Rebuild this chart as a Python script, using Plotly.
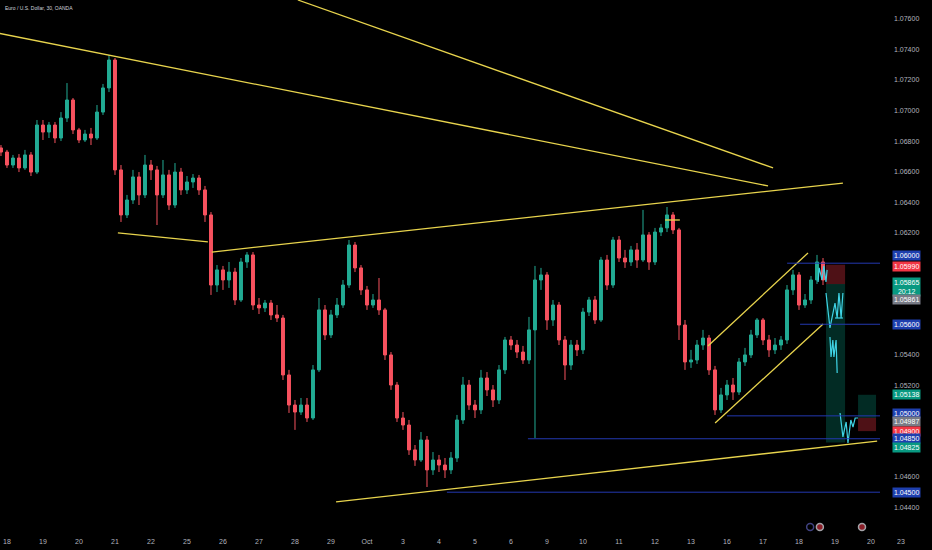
import plotly.graph_objects as go

# EUR/USD, 4-hour bars (6 per trading day), 18 Sep - 18 Oct
day_labels = ['18', '19', '20', '21', '22', '25', '26', '27', '28', '29', 'Oct', '3', '4', '5', '6',
              '9', '10', '11', '12', '13', '16', '17', '18', '19', '20']
first_open = 1.06755
closes = [1.06728, 1.06643, 1.06689, 1.06624, 1.06709, 1.06597, 1.06905, 1.06859, 1.06905, 1.06820, 1.06951, 1.07069,
          1.06873, 1.06807, 1.06846, 1.06820, 1.06990, 1.07148, 1.07331, 1.06611, 1.06316, 1.06414, 1.06565, 1.06447,
          1.06643, 1.06611, 1.06447, 1.06578, 1.06381, 1.06597, 1.06480, 1.06532, 1.06558, 1.06480, 1.06316, 1.05857,
          1.05956, 1.05890, 1.05942, 1.05759, 1.06008, 1.06054, 1.05726, 1.05707, 1.05739, 1.05661, 1.05641, 1.05268,
          1.05071, 1.05025, 1.05071, 1.04986, 1.05301, 1.05694, 1.05530, 1.05661, 1.05726, 1.05857, 1.06119, 1.05969,
          1.05825, 1.05726, 1.05759, 1.05694, 1.05399, 1.05202, 1.04986, 1.04940, 1.04777, 1.04711, 1.04842, 1.04646,
          1.04711, 1.04678, 1.04646, 1.04724, 1.04973, 1.05202, 1.05071, 1.05039, 1.05248, 1.05170, 1.05104, 1.05301,
          1.05497, 1.05464, 1.05418, 1.05366, 1.05563, 1.05890, 1.05923, 1.05628, 1.05726, 1.05497, 1.05333, 1.05464,
          1.05432, 1.05680, 1.05759, 1.05628, 1.06021, 1.05857, 1.06152, 1.06034, 1.06008, 1.06087, 1.06021, 1.06185,
          1.06008, 1.06204, 1.06231, 1.06316, 1.06218, 1.05595, 1.05353, 1.05366, 1.05464, 1.05510, 1.05301, 1.05039,
          1.05137, 1.05202, 1.05156, 1.05353, 1.05399, 1.05530, 1.05628, 1.05497, 1.05432, 1.05464, 1.05497, 1.05825,
          1.05923, 1.05726, 1.05759, 1.05890, 1.06008, 1.05890]
highs = [1.06774, 1.06742, 1.06709, 1.06715, 1.06742, 1.06728, 1.06938, 1.06938, 1.06925, 1.06925, 1.06990, 1.07180,
         1.07082, 1.06886, 1.06873, 1.06886, 1.07036, 1.07174, 1.07364, 1.07344, 1.06643, 1.06447, 1.06611, 1.06597,
         1.06709, 1.06676, 1.06637, 1.06676, 1.06611, 1.06656, 1.06624, 1.06571, 1.06584, 1.06578, 1.06506, 1.06335,
         1.05988, 1.05982, 1.06008, 1.05969, 1.06034, 1.06073, 1.06073, 1.05772, 1.05759, 1.05759, 1.05726, 1.05661,
         1.05301, 1.05104, 1.05117, 1.05117, 1.05333, 1.05772, 1.05726, 1.05694, 1.05772, 1.05890, 1.06152, 1.06139,
         1.05988, 1.05851, 1.05798, 1.05903, 1.05707, 1.05418, 1.05222, 1.05025, 1.04973, 1.04809, 1.04894, 1.04868,
         1.04763, 1.04744, 1.04724, 1.04763, 1.05006, 1.05255, 1.05235, 1.05104, 1.05301, 1.05287, 1.05202, 1.05333,
         1.05517, 1.05523, 1.05497, 1.05458, 1.05648, 1.05982, 1.05969, 1.05942, 1.05759, 1.05746, 1.05523, 1.05497,
         1.05497, 1.05707, 1.05779, 1.05785, 1.06041, 1.06054, 1.06172, 1.06178, 1.06087, 1.06113, 1.06132, 1.06349,
         1.06204, 1.06231, 1.06257, 1.06368, 1.06335, 1.06231, 1.05628, 1.05432, 1.05497, 1.05563, 1.05530, 1.05327,
         1.05183, 1.05235, 1.05248, 1.05379, 1.05445, 1.05563, 1.05641, 1.05641, 1.05530, 1.05510, 1.05523, 1.05857,
         1.05956, 1.05942, 1.05798, 1.05916, 1.06054, 1.06034]
lows = [1.06702, 1.06624, 1.06624, 1.06597, 1.06611, 1.06571, 1.06584, 1.06807, 1.06820, 1.06787, 1.06800, 1.06925,
        1.06846, 1.06787, 1.06794, 1.06774, 1.06807, 1.06971, 1.07121, 1.06578, 1.06270, 1.06296, 1.06388, 1.06381,
        1.06427, 1.06545, 1.06250, 1.06427, 1.06349, 1.06362, 1.06447, 1.06453, 1.06493, 1.06447, 1.06270, 1.05792,
        1.05811, 1.05825, 1.05838, 1.05726, 1.05746, 1.05969, 1.05694, 1.05667, 1.05680, 1.05628, 1.05615, 1.05235,
        1.05019, 1.04908, 1.05006, 1.04960, 1.04973, 1.05287, 1.05497, 1.05510, 1.05641, 1.05707, 1.05838, 1.05942,
        1.05792, 1.05694, 1.05707, 1.05661, 1.05366, 1.05170, 1.04960, 1.04908, 1.04744, 1.04672, 1.04698, 1.04534,
        1.04613, 1.04632, 1.04593, 1.04619, 1.04698, 1.04947, 1.05039, 1.04986, 1.05012, 1.05130, 1.05058, 1.05078,
        1.05274, 1.05432, 1.05379, 1.05340, 1.05340, 1.04855, 1.05825, 1.05563, 1.05589, 1.05464, 1.05235, 1.05301,
        1.05392, 1.05405, 1.05654, 1.05602, 1.05615, 1.05825, 1.05838, 1.06008, 1.05969, 1.05982, 1.05969, 1.06008,
        1.05956, 1.05988, 1.06178, 1.06204, 1.06191, 1.05497, 1.05301, 1.05314, 1.05340, 1.05432, 1.05268, 1.05006,
        1.05019, 1.05104, 1.05104, 1.05137, 1.05327, 1.05379, 1.05510, 1.05464, 1.05386, 1.05405, 1.05432, 1.05471,
        1.05792, 1.05694, 1.05707, 1.05733, 1.05864, 1.05857]

# drawings (x in trading days from 18 Sep, y in price)
trend_x0 = [-0.2, 8.08, 3.08, 5.69, 18.28, 19.47, 19.67, 9.14]
trend_y0 = [1.07505, 1.07724, 1.06198, 1.06073, 1.06283, 1.05458, 1.04953, 1.04436]
trend_x1 = [21.14, 21.28, 5.58, 23.22, 18.69, 22.25, 22.67, 24.17]
trend_y1 = [1.06506, 1.06624, 1.06139, 1.06525, 1.06283, 1.06067, 1.05602, 1.04835]
level_prices = [1.06000, 1.05600, 1.05000, 1.04850, 1.04500]
level_start = [21.67, 22.03, 20.0, 14.47, 12.22]
brush_x = [22.53, 22.56, 22.64, 22.69, 22.75, 22.78, None,
           22.75, 22.86, 23.0, 23.06, 23.11, 23.17, 23.22, None, 23.0, 23.22, None,
           22.86, 22.89, 22.94, 22.97, 23.03, 23.06, None,
           23.14, 23.22, 23.31, 23.36, 23.44, 23.5, 23.56, 23.64]
brush_y = [1.05877, 1.05969, 1.05890, 1.05982, 1.05877, 1.05956, None,
           1.05805, 1.05576, 1.05739, 1.05641, 1.05805, 1.05641, 1.05805, None, 1.05641, 1.05641, None,
           1.05517, 1.05386, 1.05497, 1.05386, 1.05497, 1.05281, None,
           1.05019, 1.04862, 1.04960, 1.04822, 1.04973, 1.04927, 1.04986, 1.04986]
# position tools: x0, x1, stop, entry, target
pos_x0 = [22.75, 23.64]
pos_x1 = [23.28, 24.14]
pos_stop = [1.05990, 1.04900]
pos_entry = [1.05863, 1.04987]
pos_target = [1.04825, 1.05138]

y_ticks = [1.076, 1.074, 1.072, 1.070, 1.068, 1.066, 1.064, 1.062, 1.054, 1.052, 1.046, 1.044]
label_prices = [1.06000, 1.05990, 1.05865, 1.05861, 1.05600, 1.05138, 1.05000, 1.04987, 1.04900, 1.04850, 1.04825, 1.04500]
label_texts = ['1.06000', '1.05990', '1.05865<br>20:12', '1.05861', '1.05600', '1.05138', '1.05000', '1.04987',
               '1.04900', '1.04850', '1.04825', '1.04500']
label_colors = ['#1e3fae', '#f23645', '#089981', '#787b86', '#1e3fae', '#089981', '#1e3fae', '#787b86',
                '#f23645', '#1e3fae', '#089981', '#1e3fae']
label_shift = [8, -2, -3, -15, 0, 0, 2, -4, 0, 0, -5, 0]

opens = [first_open] + closes[:-1]
bar_x = [k / 6 for k in range(-1, len(closes) - 1)]

fig = go.Figure()

for i in range(len(pos_x0)):
    fig.add_shape(type='rect', x0=pos_x0[i], x1=pos_x1[i], y0=pos_stop[i], y1=pos_entry[i],
                  fillcolor='rgba(242,54,69,0.32)', line_width=0, layer='below')
    fig.add_shape(type='rect', x0=pos_x0[i], x1=pos_x1[i], y0=pos_entry[i], y1=pos_target[i],
                  fillcolor='rgba(8,153,129,0.28)', line_width=0, layer='below')

for i in range(len(level_prices)):
    fig.add_shape(type='line', x0=level_start[i], x1=24.3, y0=level_prices[i], y1=level_prices[i],
                  line=dict(color='#2338b0', width=1))

fig.add_trace(go.Candlestick(
    x=bar_x, open=opens, high=highs, low=lows, close=closes,
    increasing=dict(line=dict(color='#22ab94', width=1), fillcolor='#22ab94'),
    decreasing=dict(line=dict(color='#f7525f', width=1), fillcolor='#f7525f'),
    whiskerwidth=0, showlegend=False, hoverinfo='skip'))

line_x, line_y = [], []
for i in range(len(trend_x0)):
    line_x += [trend_x0[i], trend_x1[i], None]
    line_y += [trend_y0[i], trend_y1[i], None]
fig.add_trace(go.Scatter(x=line_x, y=line_y, mode='lines', line=dict(color='#e8d44d', width=1.3),
                         showlegend=False, hoverinfo='skip', cliponaxis=True))

fig.add_trace(go.Scatter(x=brush_x, y=brush_y, mode='lines', line=dict(color='#3fd4e6', width=1.2),
                         showlegend=False, hoverinfo='skip'))

# event icons at the bottom
fig.add_trace(go.Scatter(x=[22.31, 22.58, 23.75], y=[1.04272, 1.04272, 1.04272], mode='markers',
                         marker=dict(size=[7, 7, 7], color=['#000000', '#c62c3a', '#c62c3a'],
                                     line=dict(color=['#5c5fb8', '#e8e8f0', '#e8e8f0'], width=1.5)),
                         showlegend=False, hoverinfo='skip'))

for i in range(len(label_prices)):
    fig.add_annotation(x=1, xref='paper', y=label_prices[i], yref='y', xanchor='left', xshift=12,
                       yshift=label_shift[i], text=label_texts[i], showarrow=False, bgcolor=label_colors[i],
                       borderpad=1, font=dict(color='white', size=7, family='Liberation Sans'))

# next session label sits under the price scale
fig.add_annotation(x=1, xref='paper', y=0, yref='paper', yanchor='top', xshift=27, yshift=0, text='23',
                   showarrow=False, font=dict(color='#b2b5be', size=7, family='Liberation Sans'))
fig.add_annotation(x=0, xref='paper', y=1, yref='paper', xanchor='left', yanchor='top', xshift=3, yshift=-3,
                   text='Euro / U.S. Dollar, 30, OANDA', showarrow=False,
                   font=dict(color='#d1d4dc', size=5, family='Liberation Sans'))

fig.update_layout(
    width=932, height=550,
    margin=dict(l=0, r=52, t=0, b=14),
    paper_bgcolor='#000000', plot_bgcolor='#000000',
    font=dict(family='Liberation Sans', color='#b2b5be', size=7),
    xaxis=dict(range=[-0.194, 24.25], tickvals=list(range(len(day_labels))), ticktext=day_labels,
               showgrid=False, zeroline=False, showline=False, rangeslider=dict(visible=False),
               tickfont=dict(size=7, color='#b2b5be')),
    yaxis=dict(range=[1.04213, 1.07724], side='right', tickvals=y_ticks,
               ticktext=['%.5f' % v for v in y_ticks], showgrid=False, zeroline=False, showline=False,
               ticklabelstandoff=13, tickfont=dict(size=7, color='#b2b5be')),
)

# page has a default 8px body margin; drop it so the chart fills the window
fig.write_html('out.html', config={'displayModeBar': False},
               post_script="document.body.style.margin='0';document.body.style.background='#000';")
